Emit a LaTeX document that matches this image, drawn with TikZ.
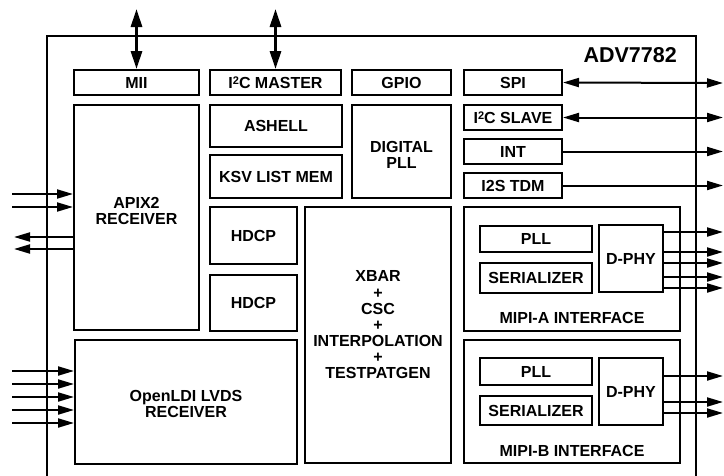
\documentclass[tikz,border=0pt]{standalone}
\usepackage{fontspec}
\setmainfont{Liberation Sans}
\usetikzlibrary{arrows.meta}
\tikzset{
  blk/.style={draw, line width=2pt, inner sep=0pt, align=center,
    font=\bfseries\fontsize{16}{15.5}\selectfont},
  lbl/.style={inner sep=0pt, align=center, font=\bfseries\fontsize{16}{15.5}\selectfont},
  sig/.style={line width=2pt, -{Triangle[length=16pt,width=9pt]}},
  bsig/.style={line width=2pt, {Triangle[length=16pt,width=9pt]}-{Triangle[length=16pt,width=9pt]}},
  tsig/.style={line width=3pt, {Triangle[length=18pt,width=11pt]}-{Triangle[length=18pt,width=11pt]}},
}
\newcommand{\twosup}{{\fontsize{11}{11}\selectfont\raisebox{3.5pt}{2}}}
\begin{document}
\begin{tikzpicture}[x=1pt,y=-1pt]
\useasboundingbox (0,0) rectangle (724,475);
% chip outline
\draw[line width=2pt] (47,476) -- (47,36) -- (696,36) -- (696,476);
\node[inner sep=0pt, anchor=east, font=\bfseries\fontsize{21.5}{21}\selectfont] (chip) at (677,55) {ADV7782};
% boxes
\node[blk,minimum width=125pt,minimum height=25pt] (mii) at (136.5,82.5) {MII};
\node[blk,minimum width=131pt,minimum height=25pt] (i2cm) at (275.5,82.5) {I\twosup C MASTER};
\node[blk,minimum width=99pt,minimum height=25pt] (gpio) at (401.5,82.5) {GPIO};
\node[blk,minimum width=98pt,minimum height=25pt] (spi) at (513,82.5) {SPI};
\node[blk,minimum width=98pt,minimum height=25pt] (i2cs) at (513,117.5) {I\twosup C SLAVE};
\node[blk,minimum width=98pt,minimum height=25pt] (int) at (513,151.5) {INT};
\node[blk,minimum width=98pt,minimum height=25pt] (i2s) at (513,185.5) {I2S TDM};
\node[blk,minimum width=99pt,minimum height=93pt] (dpll) at (401.5,151.5) {};
\node[lbl] (dplltxt) at (401.5,155) {DIGITAL\\PLL};
\node[blk,minimum width=132pt,minimum height=42pt] (ashell) at (276,126) {ASHELL};
\node[blk,minimum width=132pt,minimum height=43pt] (ksv) at (276,176.5) {KSV LIST MEM};
\node[blk,minimum width=125pt,minimum height=225pt] (apix) at (136.5,217.5) {};
\node[lbl] (apixtxt) at (136.5,211) {APIX2\\RECEIVER};
\node[blk,minimum width=87pt,minimum height=57pt] (hdcp1) at (253.5,235.5) {HDCP};
\node[blk,minimum width=87pt,minimum height=56pt] (hdcp2) at (253.5,303) {HDCP};
\node[blk,minimum width=146pt,minimum height=256pt] (xbar) at (378,335) {};
\node[lbl] (x1) at (378,276) {XBAR};
\node[lbl] (x2) at (378,293.5) {+};
\node[lbl] (x3) at (378,308.5) {CSC};
\node[lbl] (x4) at (378,326) {+};
\node[lbl] (x5) at (378,340.5) {INTERPOLATION};
\node[lbl] (x6) at (378,358) {+};
\node[lbl] (x7) at (378,373) {TESTPATGEN};
\node[blk,minimum width=222pt,minimum height=124pt] (ldi) at (186,402) {};
\node[lbl] (lditxt) at (186,404) {OpenLDI LVDS\\RECEIVER};
% MIPI A
\node[blk,minimum width=216pt,minimum height=124pt] (mipia) at (572,269) {};
\node[lbl] (mipiatxt) at (572,318) {MIPI-A INTERFACE};
\node[blk,minimum width=112pt,minimum height=26pt] (plla) at (536,239) {PLL};
\node[blk,minimum width=112pt,minimum height=30pt] (sera) at (536,278) {SERIALIZER};
\node[blk,minimum width=64pt,minimum height=67pt] (dphya) at (631,258.5) {D-PHY};
% MIPI B
\node[blk,minimum width=216pt,minimum height=123pt] (mipib) at (572,401.5) {};
\node[lbl] (mipibtxt) at (572,451) {MIPI-B INTERFACE};
\node[blk,minimum width=112pt,minimum height=27pt] (pllb) at (536,371.5) {PLL};
\node[blk,minimum width=112pt,minimum height=29pt] (serb) at (536,410.5) {SERIALIZER};
\node[blk,minimum width=64pt,minimum height=67pt] (dphyb) at (631,391.5) {D-PHY};
% top arrows
\coordinate (tmii) at (136.5,9);
\coordinate (ti2c) at (275.5,9);
\draw[tsig] (tmii) -- (mii.north);
\draw[tsig] (ti2c) -- (i2cm.north);
% right arrows
\foreach \n/\y in {ospi/83,oi2c/117.5,oint/151.5,oi2s/185.5,
  oa1/232,oa2/252,oa3/263,oa4/277,oa5/288,ob1/376,ob2/402,ob3/413}
  \coordinate (\n) at (723,\y);
\draw[bsig] (spi.east) -- (ospi);
\draw[bsig] (i2cs.east) -- (oi2c);
\draw[sig] (int.east) -- (oint);
\draw[sig] (i2s.east) -- (oi2s);
\foreach \n in {oa1,oa2,oa3,oa4,oa5}
  \draw[sig] (dphya.east |- \n) -- (\n);
\foreach \n in {ob1,ob2,ob3}
  \draw[sig] (dphyb.east |- \n) -- (\n);
% left arrows
\foreach \n/\y in {ia1/194,ia2/207,oa6/237,oa7/249,il1/371,il2/384,il3/397,il4/410,il5/423}
  \coordinate (\n) at (12,\y);
\foreach \n in {ia1,ia2}
  \draw[sig] (\n) -- (apix.west |- \n);
\foreach \n in {oa6,oa7}
  \draw[sig] (apix.west |- \n) -- ([xshift=2pt]\n);
\foreach \n in {il1,il2,il3,il4,il5}
  \draw[sig] (\n) -- (ldi.west |- \n);
\end{tikzpicture}
\end{document}
